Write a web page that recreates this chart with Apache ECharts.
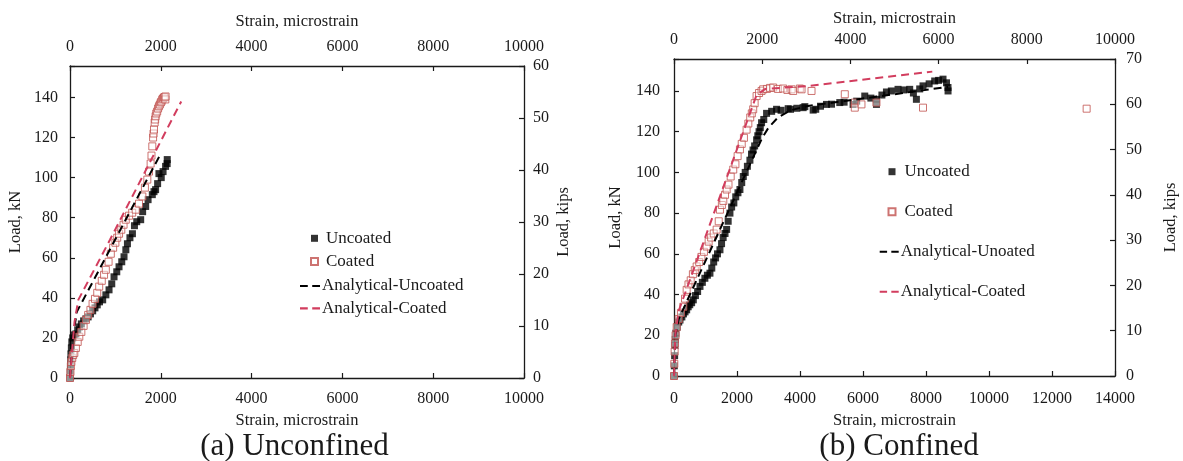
<!DOCTYPE html>
<html>
<head>
<meta charset="utf-8">
<title>Load–strain response</title>
<script src="https://cdn.jsdelivr.net/npm/echarts@6/dist/echarts.min.js"></script>
<style>
  html, body { margin: 0; padding: 0; background: #ffffff; }
  #chart { width: 1183px; height: 461px; }
</style>
</head>
<body>
<div id="chart"></div>
<script>
// ---- Data: [strain (microstrain), load (kN)] ----
// (a) Unconfined
const unconfinedUncoated = [
  [0,0],[5,3],[10,6],[15,9],[20,12],[30,15],[40,18],[60,20],[90,21.5],[130,22],[170,24],[210,25.5],
  [250,27],[300,28.5],[350,29.5],[400,30.5],[450,32],[500,33.5],[550,35],[600,36.5],[650,38],[720,39],
  [790,41.5],[860,44],[920,47],[970,50.5],[1030,53],[1080,55.5],[1140,58],[1190,60.5],[1230,64],
  [1265,67],[1320,70],[1375,72],[1420,76],[1470,78],[1557,79],[1600,83],[1667,85.6],[1720,89],
  [1813,91.5],[1850,93],[1886,94],[1930,97],[1959,102],[2010,100],[2050,103],[2105,105.6],[2140,107],[2142,109]
];
const unconfinedCoated = [
  [0,0],[10,3],[20,6],[30,8],[50,10],[70,11.5],[95,12.5],[130,15],[170,18],[205,20.6],[250,23],[300,26],
  [351,29],[400,31.5],[450,34],[497,37],[550,39.5],[600,42.5],[643,45.6],[700,48.5],[750,51.5],[789,54],
  [850,58],[899,62],[950,65],[1000,67.5],[1040,70],[1081,72],[1130,74],[1180,76.5],[1228,79],[1301,81],
  [1370,82.5],[1447,84],[1520,87],[1594,90.6],[1650,95],[1703,99],[1740,103],[1776,107],[1795,111],
  [1813,115.6],[1830,120],[1840,122],[1850,124],[1865,127.5],[1875,129],[1886,130.6],[1900,132],
  [1920,133],[1940,134.5],[1959,135.6],[1980,136.5],[2000,137.5],[2015,138],[2032,139],[2050,139.5],
  [2070,140],[2085,140.2],[2100,139],[2105,140.5]
];
const unconfinedAnalyticalUncoated = [[0,0],[40,12],[90,24],[150,33],[2000,112]];
const unconfinedAnalyticalCoated = [[0,0],[40,12],[100,28],[183,39],[881,69],[2450,138]];

// (b) Confined
const confinedUncoated = [
  [0,0],[10,5],[20,10],[30,15],[40,18],[60,21],[100,24],[150,26.5],[190,27.5],[250,29],[300,30.5],
  [350,31.5],[402,32.5],[450,34],[500,35],[560,36],[613,37.4],[680,39.5],[750,41.5],[825,44],[900,46],
  [980,48],[1060,49.5],[1141,50.5],[1200,53],[1260,56],[1320,58],[1380,60],[1459,62],[1510,65],[1560,68],
  [1620,70],[1671,72],[1720,76],[1776,80],[1830,83],[1900,85],[1960,88],[2030,90],[2093,91.6],[2150,95],
  [2200,98],[2260,100],[2330,103],[2410,106],[2460,109],[2510,111],[2560,113],[2622,116],[2660,118],
  [2700,120],[2740,122],[2780,124.4],[2850,126],[2939,129],[3100,130],[3256,131],[3400,130.5],[3625,131.3],
  [3700,131],[3900,131.5],[4100,131.8],[4154,132.3],[4418,130.6],[4500,131],[4650,132.5],[4841,133.4],
  [5000,133.5],[5263,134.3],[5400,134.5],[5686,133.4],[5800,135],[6056,137.5],[6250,136.5],[6427,135.9],
  [6427,133.4],[6600,138],[6744,139.5],[6900,140],[7112,140.8],[7300,140.5],[7483,140.8],[7600,139],
  [7695,135.9],[7800,141],[7905,142.5],[8100,143.5],[8276,144.9],[8400,145.2],[8540,145.8],[8650,144],
  [8698,141.7],[8700,140]
];
const confinedCoated = [
  [0,0],[10,6],[20,12],[30,16],[50,20],[85,24],[150,28],[220,31],[296,34],[350,38],[402,42.3],[460,45],
  [530,47],[600,50],[660,52],[719,53.8],[800,56],[870,58.5],[950,61],[1036,63.6],[1100,66],[1180,68],
  [1260,70],[1354,71.9],[1420,76],[1459,81.7],[1520,84],[1565,86],[1620,89],[1671,91.6],[1730,94],
  [1800,98],[1881,101.4],[1950,104],[2020,108],[2093,111.3],[2150,114],[2220,117],[2305,121],[2360,124],
  [2420,127],[2470,129],[2514,131],[2560,134],[2622,137.5],[2700,139],[2780,140],[2831,140.8],[2950,141],
  [3050,141.5],[3148,141.7],[3300,141],[3466,141.2],[3600,140.5],[3732,140.8],[3783,140],[3995,141.2],
  [4049,140.8],[4366,140],[5422,138.4],[5739,134.3],[5739,131.8],[5951,133.4],[6427,134.3],[7905,131.8],
  [13100,131.3]
];
const confinedAnalyticalUncoated = [[0,0],[40,20],[150,28],[2800,117],[3000,122],[3300,127],[3700,130.5],[4200,132.5],[8700,142]];
const confinedAnalyticalCoated = [[0,0],[40,20],[150,32],[2620,138],[2900,141],[4300,142.5],[8200,149.5]];

// ---- Axis ranges and tick steps ----
const strainTicksA = { min: 0, max: 10000, interval: 2000 };
const strainTicksB = { min: 0, max: 14000, interval: 2000 };
const strainTopTicks = { min: 0, max: 10000, interval: 2000 };
const loadKN = { min: 0, max: 155.7, interval: 20 };    // 35 kips
const kipsA = { min: 0, max: 60, interval: 10 };
const kipsB = { min: 0, max: 70, interval: 10 };

const FONT = '"Liberation Serif", "Times New Roman", serif';
const INK = '#1a1a1a';
const RED = '#c0504d';
const RED_DASH = '#d23d5e';
// two short dashes, used as the legend key of the analytical curves
const DASH_ICON = 'path://M0,0H7V2H0Z M11,0H18V2H11Z';

function axisBase(range, extra) {
  return Object.assign({
    type: 'value',
    min: range.min, max: range.max, interval: range.interval,
    splitLine: { show: false },
    axisLine: { show: true, onZero: false, lineStyle: { color: INK, width: 1.3 } },
    axisTick: { show: true, inside: true, length: 5, lineStyle: { color: INK, width: 1.2 } },
    axisLabel: {
      color: INK, fontFamily: FONT, fontSize: 16,
      formatter: v => (Math.abs(v / range.interval - Math.round(v / range.interval)) < 1e-6 ? String(v) : '')
    },
    nameTextStyle: { color: INK, fontFamily: FONT, fontSize: 16.5 },
    nameLocation: 'middle'
  }, extra);
}

function withMargin(range, margin) {
  return Object.assign(axisBase(range).axisLabel, { margin });
}

function scatterSeries(name, data, xi, yi, filled) {
  return {
    type: 'scatter', name, data, xAxisIndex: xi, yAxisIndex: yi,
    symbol: 'rect', symbolSize: 7,
    itemStyle: filled
      ? { color: '#000000' }
      : { color: 'rgba(255,255,255,0.6)', borderColor: RED, borderWidth: 1 },
    emphasis: { disabled: true }
  };
}

function dashSeries(name, data, xi, yi, color) {
  return {
    type: 'line', name, data, xAxisIndex: xi, yAxisIndex: yi,
    symbol: 'none', smooth: false,
    lineStyle: { color, width: 2, type: [8, 5] },
    itemStyle: { color },
    emphasis: { disabled: true }
  };
}

const legendText = { color: INK, fontFamily: FONT, fontSize: 17 };

const option = {
  animation: false,
  backgroundColor: '#ffffff',
  grid: [
    { left: 70, top: 66, width: 454, height: 312 },
    { left: 674, top: 59, width: 441, height: 317 }
  ],
  xAxis: [
    axisBase(strainTicksA, { gridIndex: 0, position: 'bottom', name: 'Strain, microstrain', nameGap: 30,
      axisLabel: withMargin(strainTicksA, 13) }),
    axisBase(strainTopTicks, { gridIndex: 0, position: 'top', name: 'Strain, microstrain', nameGap: 36,
      axisLabel: withMargin(strainTopTicks, 11) }),
    axisBase(strainTicksB, { gridIndex: 1, position: 'bottom', name: 'Strain, microstrain', nameGap: 32,
      axisLabel: withMargin(strainTicksB, 15) }),
    axisBase(strainTopTicks, { gridIndex: 1, position: 'top', name: 'Strain, microstrain', nameGap: 30,
      axisLabel: withMargin(strainTopTicks, 11) })
  ],
  yAxis: [
    axisBase(loadKN, { gridIndex: 0, position: 'left', name: 'Load, kN', nameGap: 46, nameRotate: 90,
      axisLabel: withMargin(loadKN, 12) }),
    axisBase(kipsA, { gridIndex: 0, position: 'right', name: 'Load, kips', nameGap: 31, nameRotate: 90,
      axisLabel: withMargin(kipsA, 9) }),
    axisBase(loadKN, { gridIndex: 1, position: 'left', name: 'Load, kN', nameGap: 50, nameRotate: 90,
      axisLabel: withMargin(loadKN, 14) }),
    axisBase(kipsB, { gridIndex: 1, position: 'right', name: 'Load, kips', nameGap: 47, nameRotate: 90,
      axisLabel: withMargin(kipsB, 11) })
  ],
  legend: [
    { data: ['Uncoated', 'Coated'], orient: 'vertical', left: 305, top: 224.8, itemGap: 6.3,
      itemWidth: 7, itemHeight: 7, textStyle: Object.assign({ padding: [0, 0, 0, 3] }, legendText),
      selectedMode: false },
    { data: [{ name: 'Analytical-Uncoated', icon: DASH_ICON }, { name: 'Analytical-Coated', icon: DASH_ICON }],
      orient: 'vertical', left: 295, top: 272.5, itemGap: 5.3,
      itemWidth: 20, itemHeight: 7, textStyle: Object.assign({ padding: [0, 0, 0, -3] }, legendText),
      selectedMode: false },
    { data: ['Uncoated ', 'Coated '], orient: 'vertical', left: 882.5, top: 158.2, itemGap: 23,
      itemWidth: 7, itemHeight: 7, textStyle: Object.assign({ padding: [0, 0, 0, 4] }, legendText),
      selectedMode: false },
    { data: [{ name: 'Analytical-Unoated', icon: DASH_ICON }, { name: 'Analytical-Coated ', icon: DASH_ICON }],
      orient: 'vertical', left: 874.7, top: 238.2, itemGap: 23,
      itemWidth: 19, itemHeight: 7, textStyle: Object.assign({ padding: [0, 0, 0, -3] }, legendText),
      selectedMode: false }
  ],
  series: [
    scatterSeries('Uncoated', unconfinedUncoated, 0, 0, true),
    scatterSeries('Coated', unconfinedCoated, 0, 0, false),
    dashSeries('Analytical-Uncoated', unconfinedAnalyticalUncoated, 0, 0, '#000000'),
    dashSeries('Analytical-Coated', unconfinedAnalyticalCoated, 0, 0, RED_DASH),
    scatterSeries('Uncoated ', confinedUncoated, 2, 2, true),
    scatterSeries('Coated ', confinedCoated, 2, 2, false),
    dashSeries('Analytical-Unoated', confinedAnalyticalUncoated, 2, 2, '#000000'),
    dashSeries('Analytical-Coated ', confinedAnalyticalCoated, 2, 2, RED_DASH)
  ],
  graphic: [
    { type: 'text', x: 294.5, y: 446.7,
      style: { text: '(a) Unconfined', fill: INK, font: '31px ' + FONT, align: 'center', verticalAlign: 'middle' } },
    { type: 'text', x: 899, y: 446.7,
      style: { text: '(b) Confined', fill: INK, font: '31px ' + FONT, align: 'center', verticalAlign: 'middle' } }
  ]
};

const chart = echarts.init(document.getElementById('chart'), null, { renderer: 'canvas' });
chart.setOption(option);
</script>
</body>
</html>
